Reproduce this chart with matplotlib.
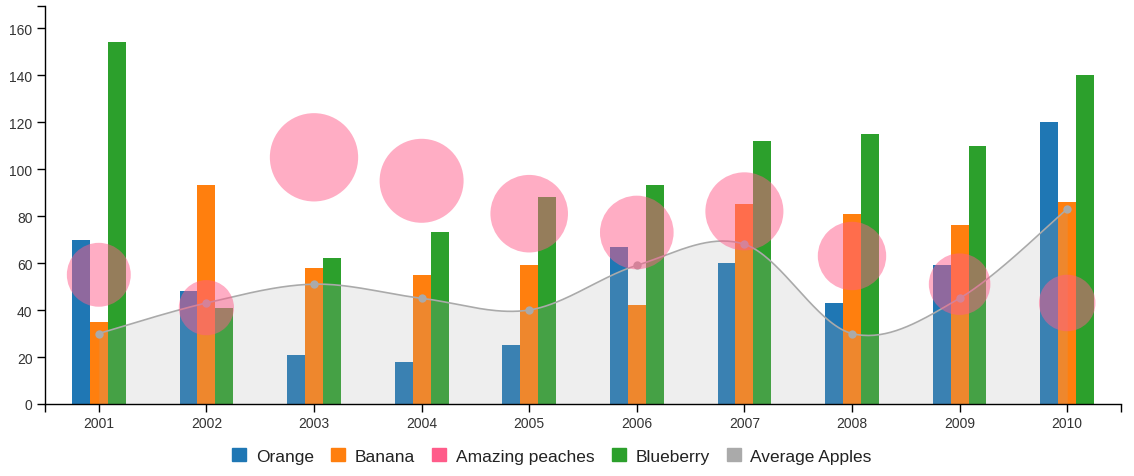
import numpy as np
import matplotlib
matplotlib.use("Agg")
import matplotlib.pyplot as plt
from matplotlib.patches import Patch

years = ["2001", "2002", "2003", "2004", "2005", "2006", "2007", "2008", "2009", "2010"]
orange = [70, 48, 21, 18, 25, 67, 60, 43, 59, 120]
banana = [35, 93, 58, 55, 59, 42, 85, 81, 76, 86]
blueberry = [154, 41, 62, 73, 88, 93, 112, 115, 110, 140]
peaches = [55, 41, 105, 95, 81, 73, 82, 63, 51, 43]
avg_apples = [30, 43, 51, 45, 40, 59, 68, 30, 45, 83]

C_ORANGE = "#1f77b4"
C_BANANA = "#ff7f0e"
C_PEACH = "#ff5c8a"
C_BLUE = "#2ca02c"
C_APPLE = "#aaaaaa"

plt.rcParams["font.family"] = ["Liberation Sans", "DejaVu Sans"]


def cardinal(xs, ys, n=40):
    # d3 curveCardinal (tension 0) as cubic bezier segments
    p = np.column_stack([xs, ys]).astype(float)
    p = np.vstack([p[0], p, p[-1]])
    out = []
    t = np.linspace(0, 1, n)[:, None]
    for i in range(1, len(p) - 2):
        p0, p1, p2, p3 = p[i - 1], p[i], p[i + 1], p[i + 2]
        b1 = p1 + (p2 - p0) / 6
        b2 = p2 - (p3 - p1) / 6
        seg = ((1 - t) ** 3) * p1 + 3 * ((1 - t) ** 2) * t * b1 + 3 * (1 - t) * t ** 2 * b2 + t ** 3 * p2
        out.append(seg if i == 1 else seg[1:])
    out = np.vstack(out)
    return out[:, 0], out[:, 1]


fig = plt.figure(figsize=(11.34, 4.77), dpi=100)
ax = fig.add_axes([45 / 1134, 72 / 477, 1076 / 1134, 398 / 477])

x = np.arange(len(years))
w = 1 / 6
ax.bar(x - w, orange, w, color=C_ORANGE, zorder=1)
ax.bar(x, banana, w, color=C_BANANA, zorder=1)
ax.bar(x + w, blueberry, w, color=C_BLUE, zorder=1)

cx, cy = cardinal(x, avg_apples)
ax.fill_between(cx, 0, cy, color=C_APPLE, alpha=0.2, linewidth=0, zorder=2)
ax.plot(cx, cy, color=C_APPLE, lw=1.2, zorder=3)
ax.plot(x, avg_apples, "o", color=C_APPLE, ms=6, mec="none", zorder=3)

ax.scatter(x, peaches, s=np.array(peaches) * 38.5, color=C_PEACH, alpha=0.5,
           edgecolors="none", zorder=4)

ax.set_xlim(-0.5, 9.5)
ax.set_ylim(0, 169.4)
ax.set_xticks(x)
ax.set_xticklabels(years)
ax.set_yticks(range(0, 161, 20))
ax.set_xticks([-0.5, 9.5], minor=True)
ax.set_yticks([169.4], minor=True)
ax.tick_params(which="both", length=6, width=1, color="black", labelsize=10,
               labelcolor="#333333", pad=3)
for side in ["top", "right"]:
    ax.spines[side].set_visible(False)
for side in ["left", "bottom"]:
    ax.spines[side].set_linewidth(1)

handles = [Patch(color=C_ORANGE), Patch(color=C_BANANA), Patch(color=C_PEACH),
           Patch(color=C_BLUE), Patch(color=C_APPLE)]
labels = ["Orange", "Banana", "Amazing peaches", "Blueberry", "Average Apples"]
fig.legend(handles, labels, loc="center", bbox_to_anchor=(552 / 1134, 1 - 457 / 477),
           ncol=5, frameon=False, fontsize=12.5, handlelength=0.8, handleheight=0.8,
           handletextpad=0.55, columnspacing=1.0, labelcolor="#222222")

fig.savefig("out.png", dpi=100)
